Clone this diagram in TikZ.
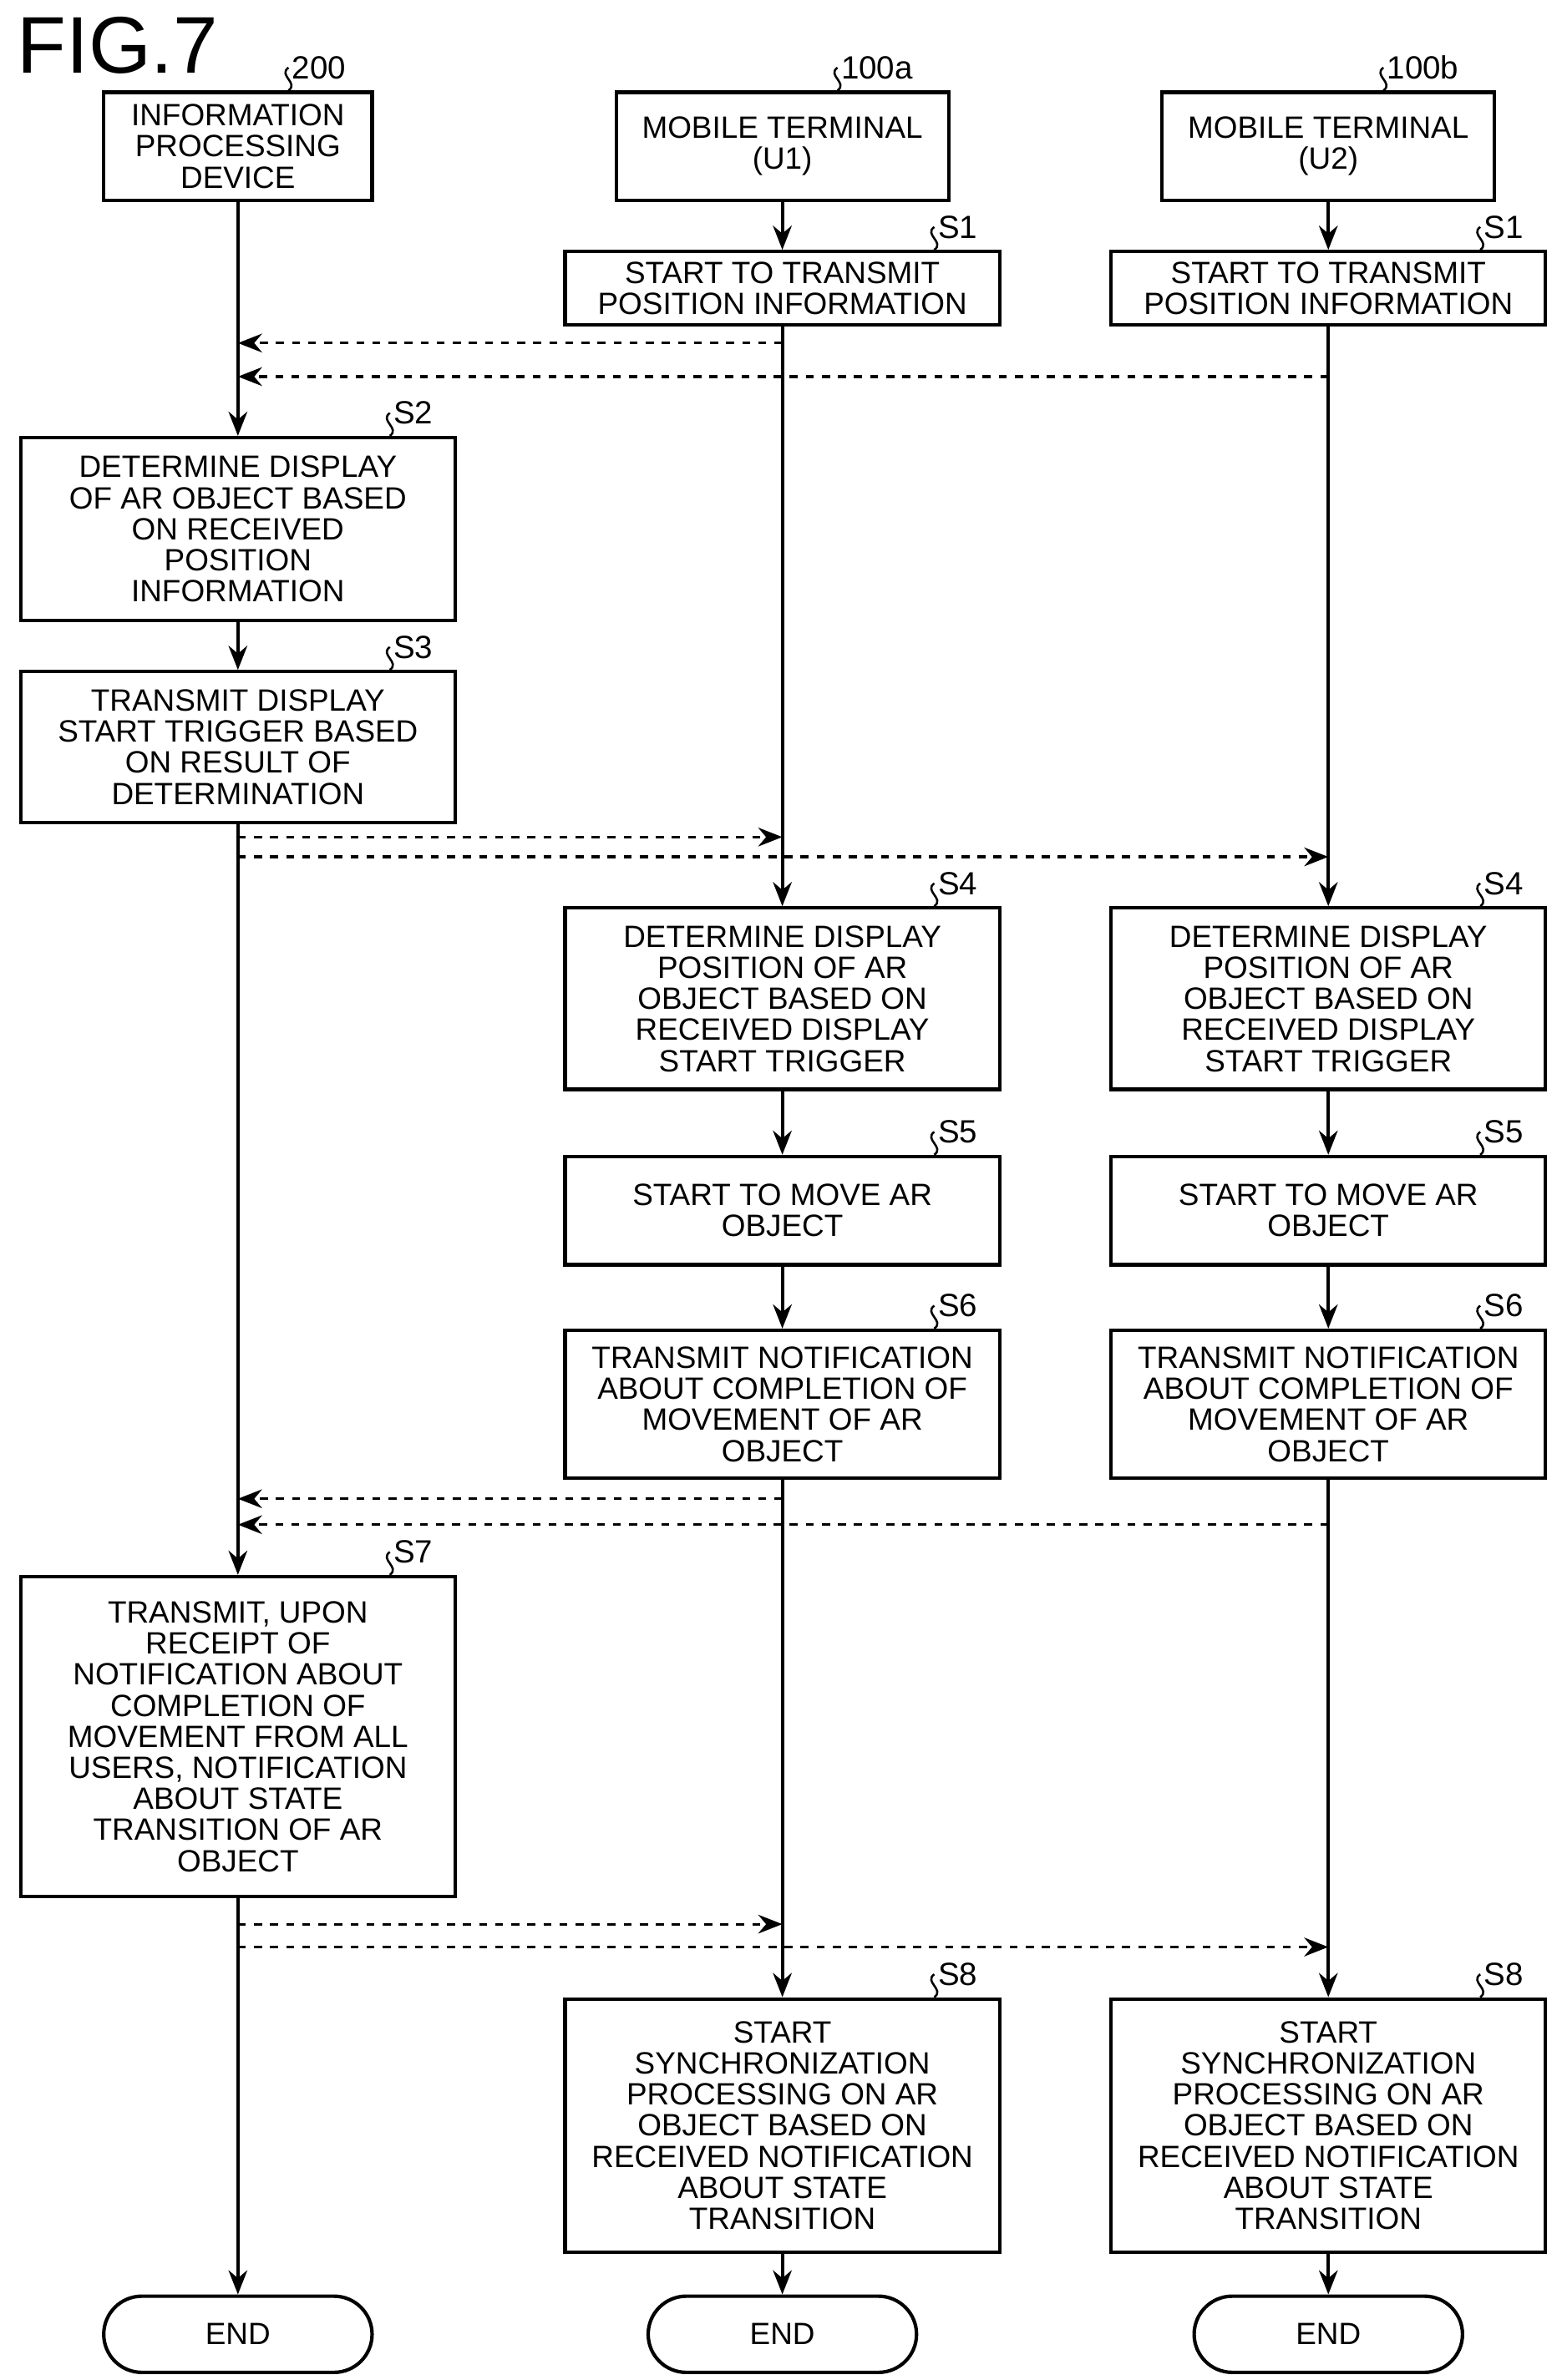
\documentclass[tikz,border=0pt]{standalone}
\usepackage{fontspec}
\setmainfont{Liberation Sans}
\usetikzlibrary{arrows.meta}
\usetikzlibrary{positioning}

\newcommand\steptag[3]{\draw[line width=0.8pt] ([xshift=#3]#1.north east) .. controls +(0.14cm,0.1cm) and +(-0.14cm,-0.1cm) .. ++(0,0.3cm) node[right,inner sep=1pt,font=\fontsize{12}{13}\selectfont]{#2};}

\begin{document}
\begin{tikzpicture}[x=0.02cm,y=-0.02cm,
	box/.style={draw,line width=1.3pt,align=center,minimum width=5.7cm,inner sep=1pt,
	            font=\fontsize{11.5}{11.6}\selectfont},
	endbox/.style={box,rounded corners=0.5cm,minimum width=3.52cm,minimum height=1cm},
	flow/.style={line width=1.3pt,-{Stealth[length=9pt,width=7pt]}},
	msg/.style={line width=1pt,dashed,-{Stealth[length=9pt,width=7pt]}}]
	\useasboundingbox (0,0) rectangle (1024,1561);
	\node[anchor=west,font=\fontsize{30}{30}\selectfont] (fig) at (5,30) {FIG.7};

	% headers
	\node[box,minimum width=3.52cm,minimum height=1.42cm] (h200) at (156,96) {INFORMATION\\PROCESSING\\DEVICE};
	\node[box,minimum width=4.36cm,minimum height=1.42cm] (ha) at (513,96) {MOBILE TERMINAL\\(U1)};
	\node[box,minimum width=4.36cm,minimum height=1.42cm] (hb) at (871,96) {MOBILE TERMINAL\\(U2)};

	% information processing device
	\node[box,minimum height=2.4cm] (s2) at (156,347) {DETERMINE DISPLAY\\OF AR OBJECT BASED\\ON RECEIVED\\POSITION\\INFORMATION};
	\node[box,minimum height=1.98cm] (s3) at (156,490) {TRANSMIT DISPLAY\\START TRIGGER BASED\\ON RESULT OF\\DETERMINATION};
	\node[box,minimum height=4.2cm] (s7) at (156,1139) {TRANSMIT, UPON\\RECEIPT OF\\NOTIFICATION ABOUT\\COMPLETION OF\\MOVEMENT FROM ALL\\USERS, NOTIFICATION\\ABOUT STATE\\TRANSITION OF AR\\OBJECT};
	\node[endbox] (e0) at (156,1531) {END};

	% mobile terminals
	\foreach \t/\x in {a/513,b/871}{
		\node[box,minimum height=0.96cm] (s1\t) at (\x,189) {START TO TRANSMIT\\POSITION INFORMATION};
		\node[box,minimum height=2.38cm] (s4\t) at (\x,655) {DETERMINE DISPLAY\\POSITION OF AR\\OBJECT BASED ON\\RECEIVED DISPLAY\\START TRIGGER};
		\node[box,minimum height=1.42cm] (s5\t) at (\x,794) {START TO MOVE AR\\OBJECT};
		\node[box,minimum height=1.94cm] (s6\t) at (\x,921) {TRANSMIT NOTIFICATION\\ABOUT COMPLETION OF\\MOVEMENT OF AR\\OBJECT};
		\node[box,minimum height=3.32cm] (s8\t) at (\x,1394) {START\\SYNCHRONIZATION\\PROCESSING ON AR\\OBJECT BASED ON\\RECEIVED NOTIFICATION\\ABOUT STATE\\TRANSITION};
		\node[endbox] (e\t) at (\x,1531) {END};
		\draw[flow] (h\t) -- (s1\t);
		\draw[flow] (s1\t) -- (s4\t);
		\draw[flow] (s4\t) -- (s5\t);
		\draw[flow] (s5\t) -- (s6\t);
		\draw[flow] (s6\t) -- (s8\t);
		\draw[flow] (s8\t) -- (e\t);
		\steptag{s1\t}{S1}{-0.88cm}
		\steptag{s4\t}{S4}{-0.88cm}
		\steptag{s5\t}{S5}{-0.88cm}
		\steptag{s6\t}{S6}{-0.88cm}
		\steptag{s8\t}{S8}{-0.88cm}
	}
	\draw[flow] (h200) -- (s2);
	\draw[flow] (s2) -- (s3);
	\draw[flow] (s3) -- (s7);
	\draw[flow] (s7) -- (e0);

	% tags
	\steptag{h200}{200}{-1.12cm}
	\steptag{ha}{100a}{-1.48cm}
	\steptag{hb}{100b}{-1.48cm}
	\steptag{s2}{S2}{-0.88cm}
	\steptag{s3}{S3}{-0.88cm}
	\steptag{s7}{S7}{-0.88cm}

	% messages
	\coordinate (m1) at (513,225);
	\coordinate (m2) at (871,247);
	\coordinate (m3) at (156,549);
	\coordinate (m4) at (156,562);
	\coordinate (m5) at (513,983);
	\coordinate (m6) at (871,1000);
	\coordinate (m7) at (156,1262);
	\coordinate (m8) at (156,1277);
	\draw[msg] (m1) -- (m1 -| h200.south);
	\draw[msg] (m2) -- (m2 -| h200.south);
	\draw[msg] (m3) -- (m3 -| ha.south);
	\draw[msg] (m4) -- (m4 -| hb.south);
	\draw[msg] (m5) -- (m5 -| h200.south);
	\draw[msg] (m6) -- (m6 -| h200.south);
	\draw[msg] (m7) -- (m7 -| ha.south);
	\draw[msg] (m8) -- (m8 -| hb.south);
\end{tikzpicture}
\end{document}
